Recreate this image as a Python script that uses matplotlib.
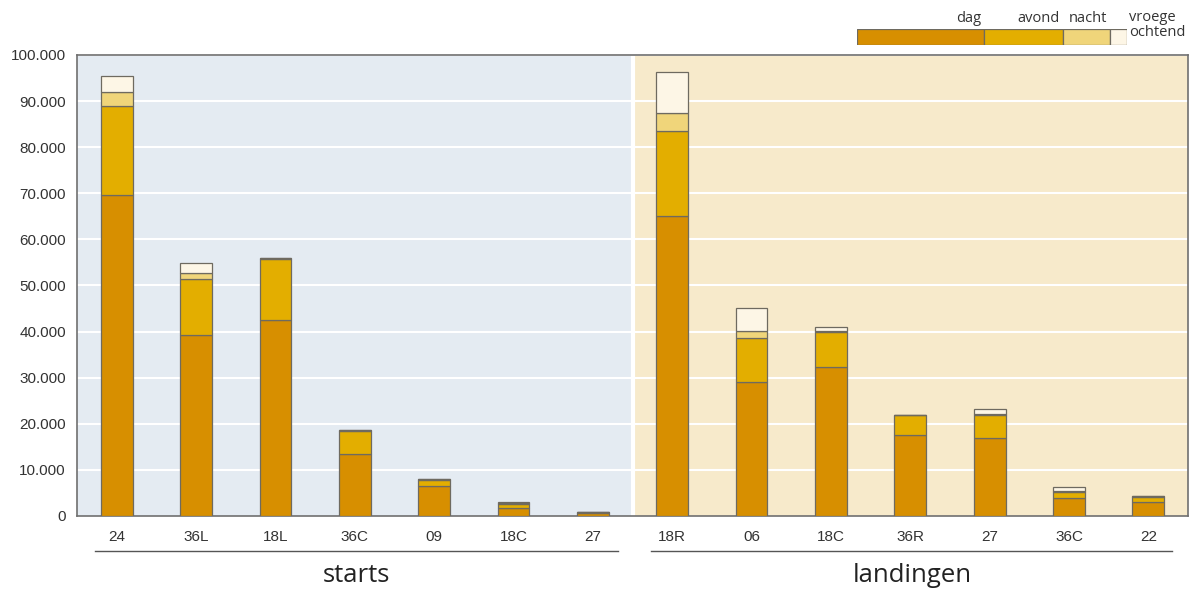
import numpy as np
import matplotlib
matplotlib.use("Agg")
import matplotlib.pyplot as plt

# baankeuze: aantal vliegtuigbewegingen per baan, per dagdeel
starts_runways = ['24', '36L', '18L', '36C', '09', '18C', '27']
landing_runways = ['18R', '06', '18C', '36R', '27', '36C', '22']
periods = ['dag', 'avond', 'nacht', 'vroege\nochtend']

starts_dag = [69600, 39300, 42400, 13400, 6500, 1700, 600]
starts_avond = [19300, 12200, 13300, 5000, 1400, 800, 300]
starts_nacht = [3000, 1200, 300, 200, 100, 200, 50]
starts_vroeg = [3500, 2200, 0, 0, 0, 300, 0]

land_dag = [65100, 29100, 32400, 17500, 16800, 4000, 3000]
land_avond = [18500, 9400, 7400, 4300, 5000, 1300, 1200]
land_nacht = [3800, 1600, 400, 200, 300, 100, 50]
land_vroeg = [8800, 5100, 700, 0, 1000, 900, 0]

yticks = [0, 10000, 20000, 30000, 40000, 50000, 60000, 70000, 80000, 90000, 100000]

colors = ['#D78F00', '#E3AE00', '#F0D57A', '#FDF6E6']
edge = '#6E6A60'

labels = starts_runways + landing_runways
series = [starts_dag + land_dag, starts_avond + land_avond,
          starts_nacht + land_nacht, starts_vroeg + land_vroeg]
x = np.arange(len(labels))

fig = plt.figure(figsize=(11.94, 5.91), dpi=100)
ax = fig.add_axes([0.0645, 0.127, 0.9305, 0.780])

n_starts = len(starts_runways)
ax.axvspan(-0.5, n_starts - 0.5, color='#E4EBF2', zorder=0)
ax.axvspan(n_starts - 0.5, len(labels) - 0.5, color='#F7EACB', zorder=0)
for t in yticks[1:]:
    ax.axhline(t, color='white', lw=1.5, zorder=1)
ax.axvline(n_starts - 0.5, color='white', lw=3, zorder=1)

bottom = np.zeros(len(labels))
for vals, c in zip(series, colors):
    vals = np.array(vals, dtype=float)
    ax.bar(x, vals, width=0.40, bottom=bottom, color=c, edgecolor=edge,
           linewidth=0.9, zorder=3)
    bottom += vals

ax.set_xlim(-0.5, len(labels) - 0.5)
ax.set_ylim(0, 100000)
ax.set_yticks(yticks)
ax.set_yticklabels([f'{t:,}'.replace(',', '.') for t in yticks],
                   fontfamily='Liberation Sans', fontsize=11, color='#333333')
ax.set_xticks(x)
ax.set_xticklabels(labels, fontfamily='Liberation Sans', fontsize=11, color='#333333')
ax.tick_params(length=0, pad=10)
ax.tick_params(axis='y', pad=8)
for s in ax.spines.values():
    s.set_color('#707070')
    s.set_linewidth(1.2)

# group lines and labels beneath the axis
fig.add_artist(plt.Line2D([95 / 1194, 618 / 1194], [1 - 551 / 591] * 2,
                          color='#555555', lw=1))
fig.add_artist(plt.Line2D([651 / 1194, 1172 / 1194], [1 - 551 / 591] * 2,
                          color='#555555', lw=1))
fig.text(356 / 1194, 1 - 576 / 591, 'starts', ha='center', va='center',
         fontsize=18.5, family='Open Sans', color='#222222')
fig.text(912 / 1194, 1 - 576 / 591, 'landingen', ha='center', va='center',
         fontsize=18.5, family='Open Sans', color='#222222')

# legend as one horizontal strip
leg = fig.add_axes([857 / 1194, 1 - 45 / 591, 270 / 1194, 16 / 591])
seg_w = [127, 79, 47, 17]
left = 0
for w, c in zip(seg_w, colors):
    leg.barh(0, w, left=left, height=1, color=c, edgecolor=edge, linewidth=0.9)
    left += w
leg.set_xlim(0, 270)
leg.set_ylim(-0.5, 0.5)
leg.axis('off')
ends = np.cumsum(seg_w)
for end, name in zip(ends[:3], periods[:3]):
    fig.text((857 + end - 3) / 1194, 1 - 18 / 591, name, ha='right', va='center',
             fontsize=10.5, family='Open Sans', color='#333333')
fig.text(1129 / 1194, 1 - 25 / 591, periods[3], ha='left', va='center',
         fontsize=10.5, family='Open Sans', color='#333333', linespacing=0.95)

fig.savefig('out.png', dpi=100)
